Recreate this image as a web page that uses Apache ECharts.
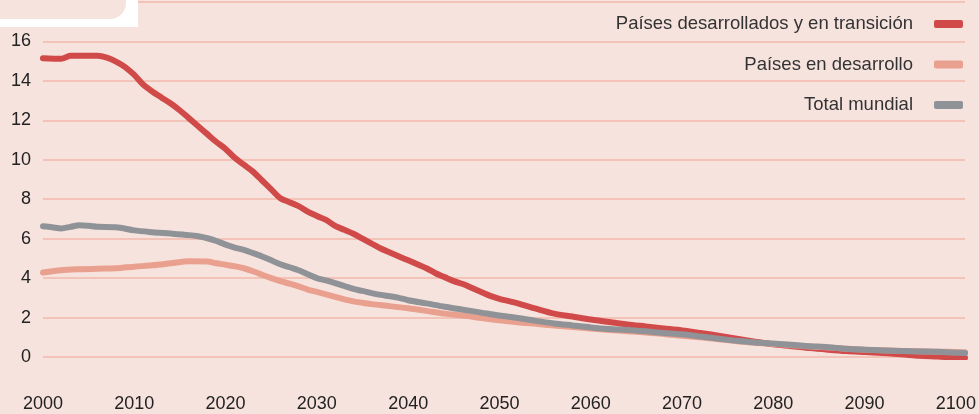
<!DOCTYPE html>
<html>
<head>
<meta charset="utf-8">
<script src="https://cdn.jsdelivr.net/npm/echarts@6/dist/echarts.min.js"></script>
<style>
html,body{margin:0;padding:0;background:#f7e3dd;}
#c{width:979px;height:414px;}
</style>
</head>
<body>
<div id="c"></div>
<script>
const seriesNames = ['Países desarrollados y en transición', 'Países en desarrollo', 'Total mundial'];

const redYears = [2000,2002,2003,2004,2006,2007,2008,2009,2010,2011,2012,2013,2014,2015,2016,2017,2018,2019,2020,2021,2022,2023,2024,2025,2026,2027,2028,2029,2030,2031,2032,2033,2034,2035,2036,2037,2038,2039,2040,2041,2042,2043,2044,2045,2046,2047,2048,2049,2050,2052,2054,2056,2058,2060,2062,2064,2066,2068,2070,2072,2074,2076,2078,2080,2082,2084,2086,2088,2090,2092,2094,2096,2098,2100,2101];
const redValues = [15.15,15.12,15.27,15.28,15.28,15.18,14.98,14.7,14.3,13.8,13.45,13.15,12.85,12.5,12.1,11.7,11.3,10.9,10.55,10.1,9.75,9.4,8.95,8.5,8.05,7.85,7.65,7.37,7.15,6.95,6.65,6.45,6.25,6.0,5.75,5.5,5.3,5.1,4.9,4.7,4.5,4.25,4.05,3.85,3.7,3.5,3.3,3.1,2.95,2.72,2.45,2.2,2.05,1.9,1.77,1.65,1.55,1.45,1.35,1.22,1.08,0.93,0.78,0.64,0.55,0.45,0.37,0.3,0.25,0.2,0.14,0.06,0.02,-0.03,-0.04];

const pinkYears = [2000,2002,2004,2006,2008,2010,2012,2014,2016,2018,2019,2020,2021,2022,2023,2024,2025,2026,2027,2028,2029,2030,2031,2032,2033,2034,2035,2036,2038,2040,2042,2044,2046,2048,2050,2052,2054,2056,2058,2060,2062,2064,2066,2068,2070,2072,2074,2076,2078,2080,2082,2084,2086,2088,2090,2092,2094,2096,2098,2100,2101];
const pinkValues = [4.28,4.4,4.45,4.48,4.5,4.58,4.65,4.75,4.85,4.84,4.75,4.68,4.6,4.5,4.35,4.17,4.0,3.85,3.72,3.58,3.42,3.3,3.18,3.05,2.92,2.82,2.75,2.68,2.58,2.47,2.34,2.2,2.1,1.98,1.86,1.76,1.68,1.6,1.52,1.44,1.37,1.31,1.24,1.17,1.08,1.0,0.9,0.8,0.72,0.66,0.6,0.53,0.48,0.42,0.37,0.34,0.31,0.29,0.27,0.25,0.24];

const grayYears = [2000,2001,2002,2003,2004,2005,2006,2008,2010,2012,2014,2016,2017,2018,2019,2020,2021,2022,2023,2024,2025,2026,2027,2028,2029,2030,2031,2032,2033,2034,2035,2036,2037,2038,2039,2040,2042,2044,2046,2048,2050,2052,2054,2056,2058,2060,2062,2064,2066,2068,2070,2072,2074,2076,2078,2080,2082,2084,2086,2088,2090,2092,2094,2096,2098,2100,2101];
const grayValues = [6.63,6.58,6.52,6.6,6.68,6.65,6.6,6.58,6.42,6.33,6.26,6.18,6.12,6.02,5.88,5.7,5.55,5.43,5.27,5.1,4.9,4.7,4.55,4.4,4.2,4.0,3.88,3.75,3.6,3.45,3.35,3.24,3.15,3.08,3.0,2.88,2.72,2.55,2.4,2.25,2.1,1.98,1.83,1.7,1.6,1.5,1.42,1.37,1.3,1.22,1.15,1.04,0.93,0.82,0.74,0.68,0.62,0.55,0.5,0.42,0.37,0.33,0.3,0.28,0.26,0.22,0.2];

const yTicks = [0,2,4,6,8,10,12,14,16];
const xTicks = [2000,2010,2020,2030,2040,2050,2060,2070,2080,2090,2100];

const colors = ['#d14a4a', '#e9a08f', '#8f9296'];
const BG = '#f7e3dd';
const FONT = '"Liberation Sans Narrow", "Liberation Sans", Arial, sans-serif';

function pairs(xs, ys){ return xs.map((x,i)=>[x, ys[i]]); }
const allData = [pairs(redYears, redValues), pairs(pinkYears, pinkValues), pairs(grayYears, grayValues)];

const chart = echarts.init(document.getElementById('c'), null, {renderer:'canvas'});
chart.setOption({
  backgroundColor: BG,
  animation: false,
  grid: {left: 43, right: 14, top: 2, bottom: 57, containLabel: false},
  xAxis: {
    type: 'value', min: 2000, max: 2101, interval: 10,
    axisLine: {show: false}, axisTick: {show: false}, splitLine: {show: false},
    axisLabel: {
      margin: 38, color: '#222', fontFamily: FONT, fontSize: 18,
      formatter: v => xTicks.indexOf(v) >= 0 ? String(v) : ''
    }
  },
  yAxis: {
    type: 'value', min: 0, max: 18, interval: 2,
    axisLine: {show: false}, axisTick: {show: false},
    splitLine: {lineStyle: {color: '#f0b8a9', width: 1.5}},
    axisLabel: {
      margin: 12, color: '#222', fontFamily: FONT, fontSize: 18,
      formatter: v => yTicks.indexOf(v) >= 0 ? String(v) : ''
    }
  },
  legend: {
    orient: 'vertical', right: 16, top: 14.5, align: 'right', padding: 0,
    itemWidth: 29, itemHeight: 8, itemGap: 21.5, icon: 'roundRect',
    textStyle: {fontFamily: FONT, fontSize: 18.5, color: '#333', padding: [0, 16, 0, 0]},
    data: seriesNames
  },
  series: seriesNames.map((name, i) => ({
    name: name, type: 'line', data: allData[i], showSymbol: false, symbol: 'none',
    smooth: 0.3,
    color: colors[i],
    itemStyle: {color: colors[i]},
    lineStyle: {color: colors[i], width: 6, cap: 'round', join: 'round'},
    z: 2 + i
  })),
  graphic: [
    {type: 'rect', left: 0, top: 0, shape: {x: 0, y: 0, width: 138, height: 27}, style: {fill: '#ffffff'}, z: 100},
    {type: 'rect', shape: {x: -20, y: -20, width: 146, height: 39, r: 16}, style: {fill: BG}, z: 101}
  ]
});
</script>
</body>
</html>
